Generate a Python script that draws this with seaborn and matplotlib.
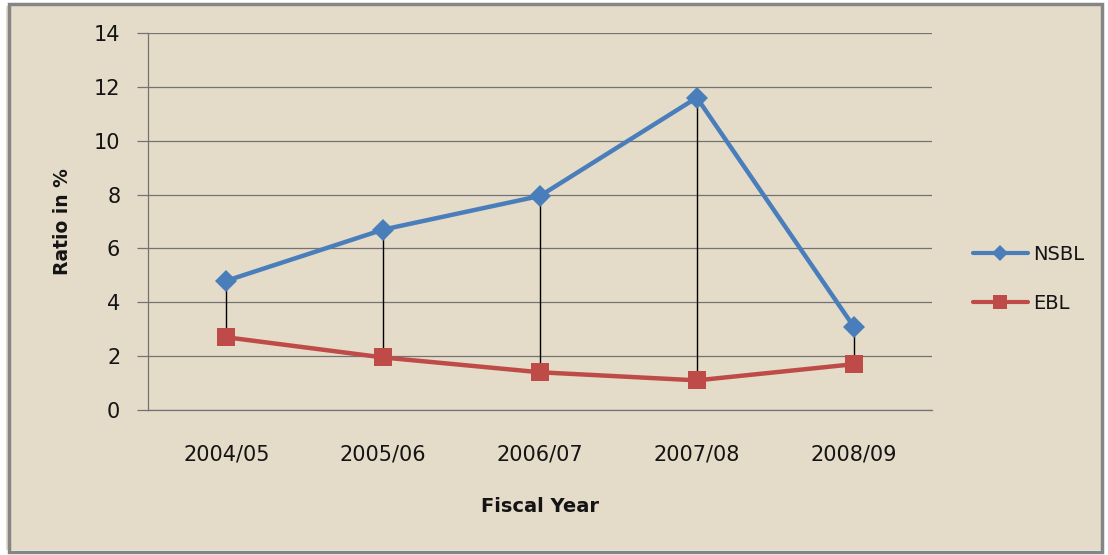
import numpy as np
import pandas as pd
import matplotlib
matplotlib.use("Agg")
import matplotlib.pyplot as plt
import seaborn as sns
from matplotlib.patches import Rectangle
from matplotlib.lines import Line2D

years = ["2004/05", "2005/06", "2006/07", "2007/08", "2008/09"]
nsbl = [4.8, 6.7, 7.95, 11.6, 3.1]
ebl = [2.7, 1.95, 1.4, 1.1, 1.7]
series_names = ["NSBL", "EBL"]
yticks = [0, 2, 4, 6, 8, 10, 12, 14]

sns.set_theme(style="white")
plt.rcParams["font.family"] = ["DejaVu Sans"]
plt.rcParams["text.color"] = "#141414"
plt.rcParams["axes.labelcolor"] = "#141414"
plt.rcParams["xtick.labelcolor"] = "#141414"
plt.rcParams["ytick.labelcolor"] = "#141414"

bg = "#E4DBC9"
df = pd.DataFrame({
    "Fiscal Year": years * 2,
    "Ratio": nsbl + ebl,
    "Bank": [series_names[0]] * len(years) + [series_names[1]] * len(years),
})

fig = plt.figure(figsize=(11.08, 5.55), dpi=100)
fig.patch.set_facecolor(bg)

ax = fig.add_axes([0.1336, 0.2613, 0.7076, 0.6792])
ax.set_facecolor("none")

palette = {"NSBL": "#4A7EBB", "EBL": "#BE4B48"}
sns.lineplot(data=df, x="Fiscal Year", y="Ratio", hue="Bank", style="Bank",
             markers={"NSBL": "D", "EBL": "s"}, dashes=False, palette=palette,
             linewidth=3.2, markersize=11, markeredgewidth=0, sort=False, ax=ax,
             legend=False, zorder=3)
# squares a little larger than diamonds, as in the reference
for ln in ax.lines:
    if ln.get_marker() == "s":
        ln.set_markersize(13)

# high-low lines
xs = np.arange(len(years))
ax.vlines(xs, ebl, nsbl, colors="black", linewidth=1.0, zorder=2)

ax.set_xlim(-0.5, len(years) - 0.5)
ax.set_ylim(0, 14)
ax.set_yticks(yticks)
ax.set_yticklabels([str(t) for t in yticks], fontsize=15)
ax.set_xticks(xs)
ax.set_xticklabels(years, fontsize=15)
ax.grid(axis="y", color="#737373", linewidth=0.9)
ax.grid(axis="x", visible=False)
ax.set_axisbelow(True)
for s in ["top", "right"]:
    ax.spines[s].set_visible(False)
for s in ["left", "bottom"]:
    ax.spines[s].set_color("#737373")
    ax.spines[s].set_linewidth(0.9)
ax.tick_params(axis="y", which="both", left=True, length=8, width=0.9, color="#737373", pad=12)
ax.tick_params(axis="x", bottom=False, pad=19)

ax.set_xlabel("Fiscal Year", fontsize=14, fontweight="bold", labelpad=23)
ax.set_ylabel("Ratio in %", fontsize=13.5, fontweight="bold")
ax.yaxis.set_label_coords(-0.097, 0.5)

handles = [
    Line2D([], [], color=palette["NSBL"], marker="D", markersize=8, linewidth=3, markeredgewidth=0),
    Line2D([], [], color=palette["EBL"], marker="s", markersize=10, linewidth=3, markeredgewidth=0),
]
fig.legend(handles, series_names, loc="center left", bbox_to_anchor=(0.8625, 0.497),
           frameon=False, fontsize=14, handlelength=2.8, labelspacing=1.55, handletextpad=0.3)

# outer frame (white margin + gray border)
fig.add_artist(Rectangle((0, 0), 1, 1, transform=fig.transFigure, facecolor="none",
                         edgecolor="white", linewidth=8, zorder=10))
fig.add_artist(Rectangle((0.0085, 0.006), 0.986, 0.987, transform=fig.transFigure,
                         facecolor="none", edgecolor="#858585", linewidth=2.5, zorder=11))

fig.savefig("out.png", dpi=100, facecolor=fig.get_facecolor())
